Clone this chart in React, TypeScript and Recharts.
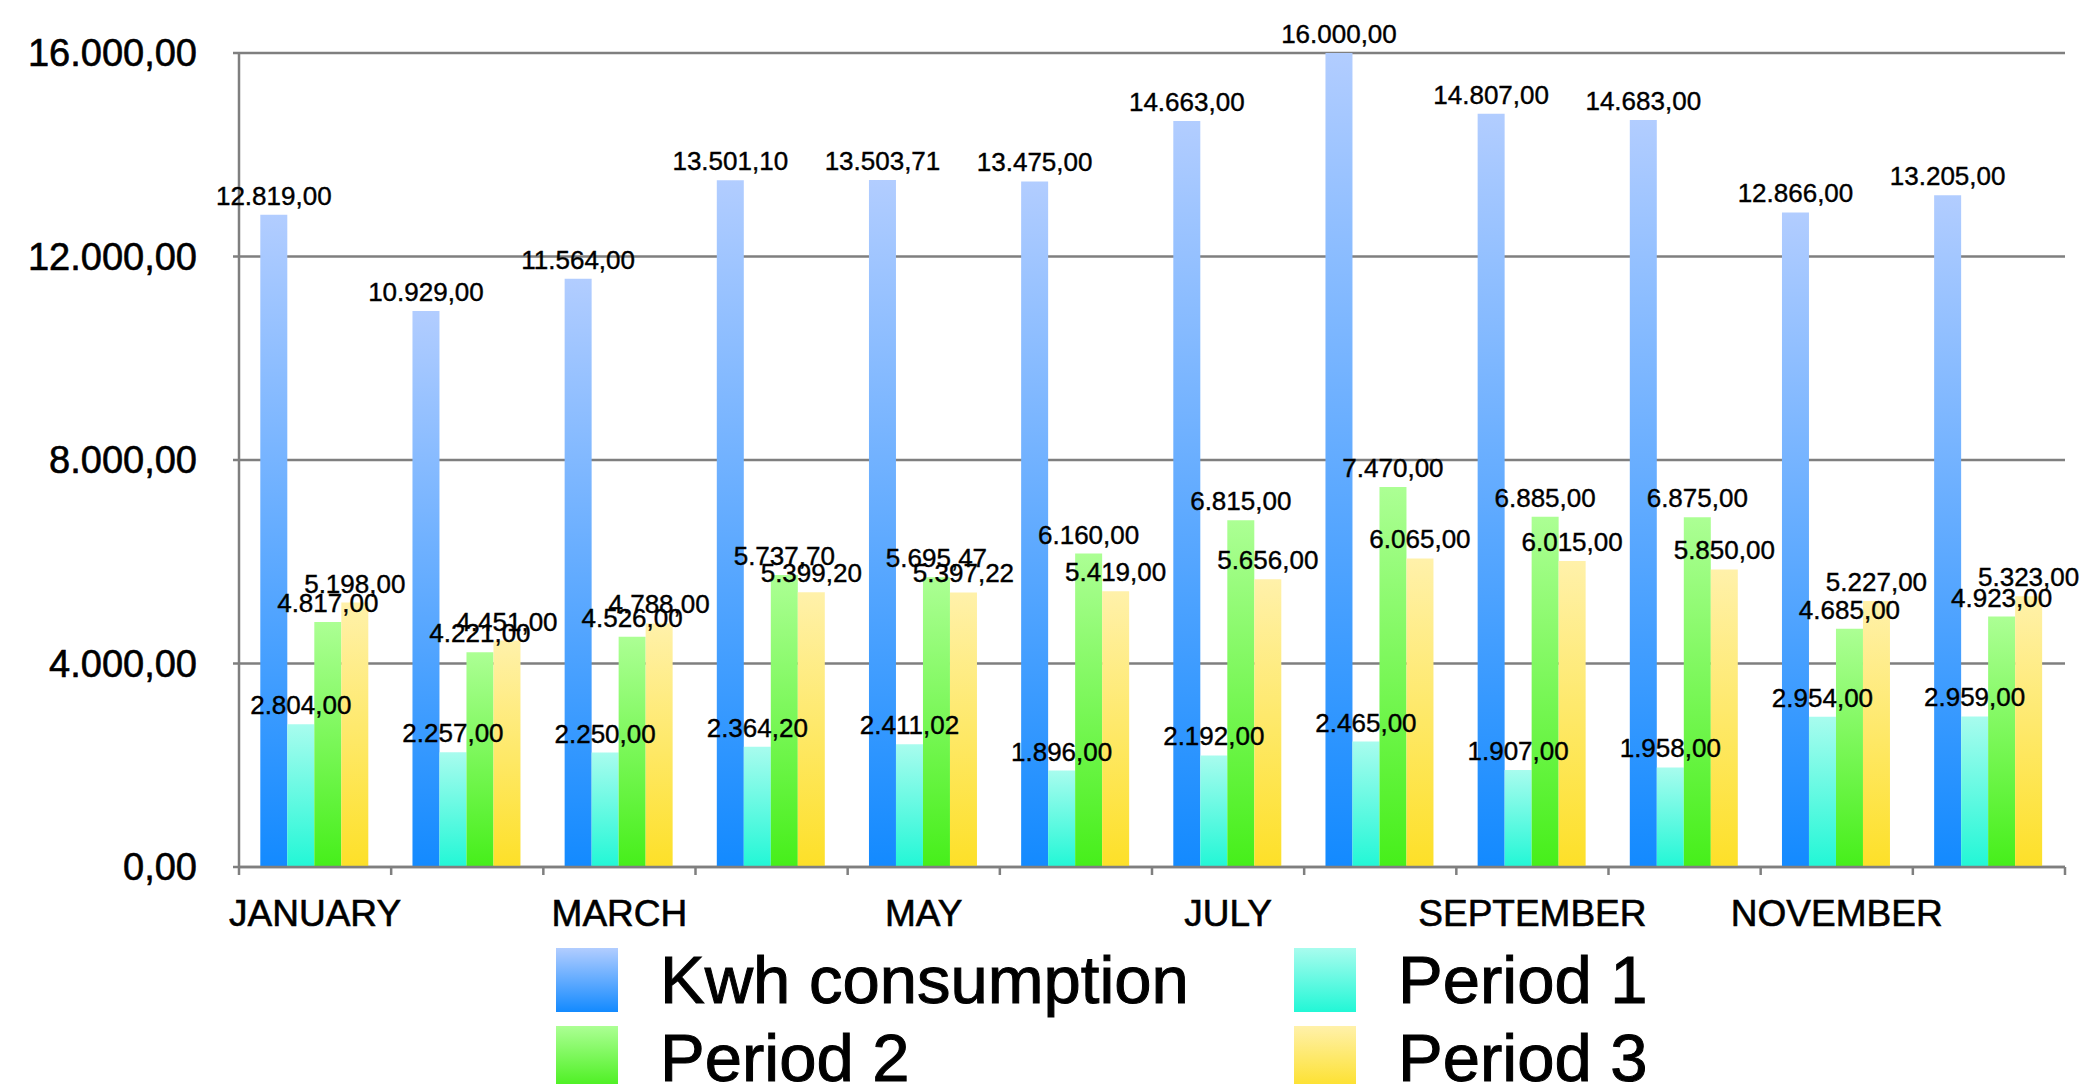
import { Bar, BarChart, CartesianGrid, LabelList, XAxis, YAxis } from 'recharts'

const months = [
  'JANUARY', 'FEBRUARY', 'MARCH', 'APRIL', 'MAY', 'JUNE',
  'JULY', 'AUGUST', 'SEPTEMBER', 'OCTOBER', 'NOVEMBER', 'DECEMBER',
]
const kwhConsumption = [12819, 10929, 11564, 13501.1, 13503.71, 13475, 14663, 16000, 14807, 14683, 12866, 13205]
const period1 = [2804, 2257, 2250, 2364.2, 2411.02, 1896, 2192, 2465, 1907, 1958, 2954, 2959]
const period2 = [4817, 4221, 4526, 5737.7, 5695.47, 6160, 6815, 7470, 6885, 6875, 4685, 4923]
const period3 = [5198, 4451, 4788, 5399.2, 5397.22, 5419, 5656, 6065, 6015, 5850, 5227, 5323]
const yTicks = [0, 4000, 8000, 12000, 16000]

const data = months.map((month, i) => ({
  month,
  kwh: kwhConsumption[i],
  p1: period1[i],
  p2: period2[i],
  p3: period3[i],
}))

const FONT = '"Liberation Sans", Arial, Helvetica, sans-serif'
const GRID = '#7f7f7f'
const W = 2085
const H = 1084
const M = { top: 53, right: 20, bottom: 137, left: 0 }
const Y_W = 239
const PLOT_W = W - M.left - M.right - Y_W
const step = PLOT_W / months.length

const series = [
  { key: 'kwh', name: 'Kwh consumption', id: 'g-kwh', top: '#b2cdff', bottom: '#138aff' },
  { key: 'p1', name: 'Period 1', id: 'g-p1', top: '#a8fcee', bottom: '#22f7d6' },
  { key: 'p2', name: 'Period 2', id: 'g-p2', top: '#acff94', bottom: '#46ef1a' },
  { key: 'p3', name: 'Period 3', id: 'g-p3', top: '#fff1aa', bottom: '#fde028' },
]

// 16000 -> "16.000,00"
function fmt(v: number) {
  const [int, dec] = v.toFixed(2).split('.')
  return int.replace(/\B(?=(\d{3})+(?!\d))/g, '.') + ',' + dec
}

function BarValue(props: any) {
  const { x, y, width, value } = props
  return (
    <text
      x={Number(x) + Number(width) / 2}
      y={Number(y) - 10}
      textAnchor="middle"
      fontSize={26}
      fontFamily={FONT}
      fill="#000"
      stroke="#000"
      strokeWidth={0.4}
    >
      {fmt(Number(value))}
    </text>
  )
}

function MonthTick(props: any) {
  const { x, y, payload, index } = props
  const left = x - step / 2
  return (
    <g>
      <line x1={left} x2={left} y1={y} y2={y + 8} stroke={GRID} strokeWidth={2.5} />
      {index === months.length - 1 ? (
        <line x1={x + step / 2} x2={x + step / 2} y1={y} y2={y + 8} stroke={GRID} strokeWidth={2.5} />
      ) : null}
      {index % 2 === 0 ? (
        <text
          x={x}
          y={y + 59}
          textAnchor="middle"
          fontSize={37}
          fontFamily={FONT}
          fill="#000"
          stroke="#000"
          strokeWidth={0.6}
        >
          {payload.value}
        </text>
      ) : null}
    </g>
  )
}

function LegendItem({ s, left, top }: { s: (typeof series)[number]; left: number; top: number }) {
  return (
    <div style={{ position: 'absolute', left, top, display: 'flex', alignItems: 'center' }}>
      <div
        style={{
          width: 62,
          height: 64,
          background: `linear-gradient(to bottom, ${s.top}, ${s.bottom})`,
        }}
      />
      <span
        style={{
          marginLeft: 42,
          fontSize: 67,
          lineHeight: '64px',
          fontFamily: FONT,
          color: '#000',
          whiteSpace: 'nowrap',
          WebkitTextStroke: '1px #000',
        }}
      >
        {s.name}
      </span>
    </div>
  )
}

export default function App() {
  return (
    <div
      style={{
        position: 'absolute',
        left: 0,
        top: 0,
        width: W,
        height: H,
        overflow: 'hidden',
        background: '#fff',
      }}
    >
      <BarChart width={W} height={H} data={data} margin={M} barCategoryGap="14%" barGap={0}>
        <defs>
          {series.map((s) => (
            <linearGradient key={s.id} id={s.id} x1="0" y1="0" x2="0" y2="1">
              <stop offset="0%" stopColor={s.top} />
              <stop offset="100%" stopColor={s.bottom} />
            </linearGradient>
          ))}
        </defs>
        <CartesianGrid vertical={false} stroke={GRID} strokeWidth={2.5} />
        <XAxis
          dataKey="month"
          interval={0}
          height={80}
          tickLine={false}
          tickSize={0}
          tickMargin={0}
          axisLine={{ stroke: GRID, strokeWidth: 2.5 }}
          tick={<MonthTick />}
        />
        <YAxis
          width={Y_W}
          domain={[0, 16000]}
          ticks={yTicks}
          tickFormatter={fmt}
          tickSize={6}
          tickMargin={36}
          tickLine={{ stroke: GRID, strokeWidth: 2.5 }}
          axisLine={{ stroke: GRID, strokeWidth: 2.5 }}
          tick={{ fill: '#000', fontSize: 38, fontFamily: FONT, stroke: '#000', strokeWidth: 0.6 }}
        />
        {series.map((s) => (
          <Bar key={s.key} dataKey={s.key} name={s.name} fill={`url(#${s.id})`} isAnimationActive={false}>
            <LabelList dataKey={s.key} content={<BarValue />} />
          </Bar>
        ))}
      </BarChart>
      <LegendItem s={series[0]} left={556} top={948} />
      <LegendItem s={series[1]} left={1294} top={948} />
      <LegendItem s={series[2]} left={556} top={1026} />
      <LegendItem s={series[3]} left={1294} top={1026} />
    </div>
  )
}
